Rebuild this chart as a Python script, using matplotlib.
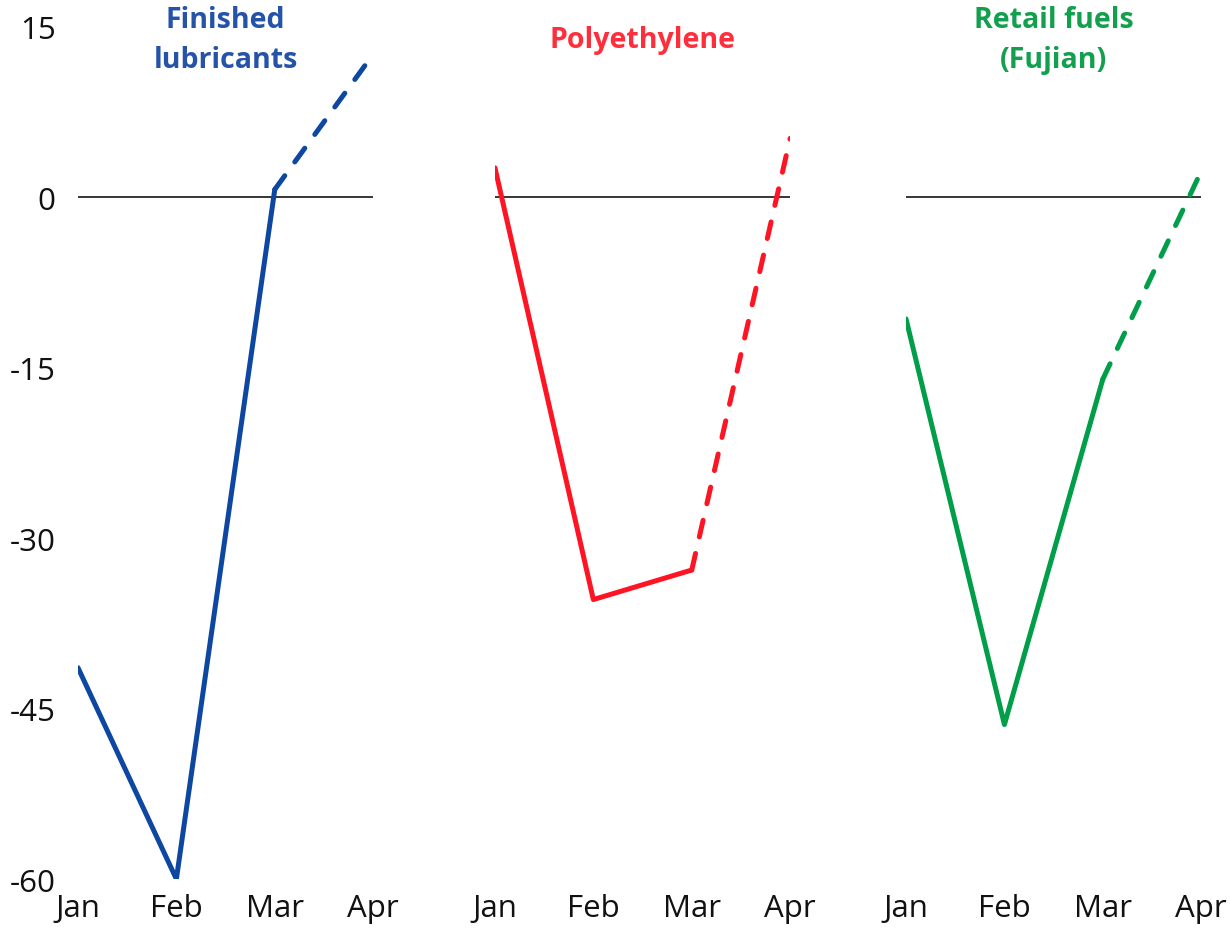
import matplotlib.pyplot as plt

months = ['Jan', 'Feb', 'Mar', 'Apr']
titles = ['Finished\nlubricants', 'Polyethylene', 'Retail fuels\n(Fujian)']
lubricants = [-41.4, -60.0, 0.7, 12.6]
polyethylene = [2.6, -35.4, -32.8, 5.2]
retail_fuels = [-10.7, -46.4, -16.0, 2.3]
yticks = [15, 0, -15, -30, -45, -60]

series = [lubricants, polyethylene, retail_fuels]
line_colors = ['#0D47A1', '#FF1424', '#009E49']
title_colors = ['#2453A8', '#FF2E3C', '#12A04E']

plt.rcParams['font.family'] = ['Open Sans', 'DejaVu Sans']

fig = plt.figure(figsize=(12.3, 9.29), dpi=100)
lefts = [0.0634, 0.4024, 0.7366]
width = 0.2400
bottom, top = 0.0527, 0.9699

x = list(range(len(months)))
for i, vals in enumerate(series):
    ax = fig.add_axes([lefts[i], bottom, width, top - bottom])
    ax.axhline(0, color='black', lw=1.1, zorder=1)
    ax.plot(x[:3], vals[:3], color=line_colors[i], lw=3.6,
            solid_capstyle='round', solid_joinstyle='round', zorder=3)
    ax.plot(x[2:], vals[2:], color=line_colors[i], lw=3.6,
            linestyle=(0, (3.4, 3.4)), dash_capstyle='round', zorder=3)
    ax.set_xlim(0, 3)
    ax.set_ylim(-60, 15)
    ax.set_xticks(x)
    ax.set_xticklabels(months)
    ax.set_yticks(yticks)
    if i == 0:
        ax.set_yticklabels([str(t) for t in yticks])
    else:
        ax.set_yticklabels([])
    ax.tick_params(axis='both', length=0, labelsize=22.5, colors='#111111')
    ax.tick_params(axis='x', pad=10)
    ax.tick_params(axis='y', pad=16)
    for s in ax.spines.values():
        s.set_visible(False)
    ax.text(0.5, 0.985, titles[i], transform=ax.transAxes, ha='center',
            va='center', fontsize=20.5, fontweight='bold', color=title_colors[i],
            linespacing=1.5)

fig.savefig('out.png', dpi=100)
